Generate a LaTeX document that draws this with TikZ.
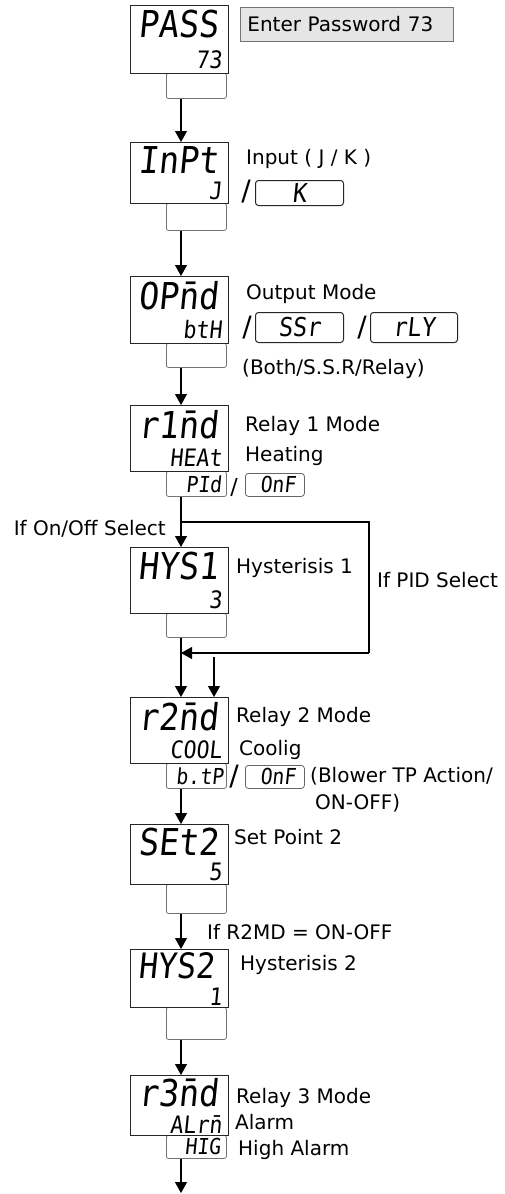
\documentclass[tikz,border=0pt]{standalone}
\usepackage{fontspec}
\setmainfont{DejaVu Sans}
\newfontfamily\segfont{DejaVu Sans Mono}[FakeSlant=0.1,FakeStretch=0.9]
\usetikzlibrary{arrows.meta}
\begin{document}
\begin{tikzpicture}[x=1pt,y=-1pt,
  mainbox/.style={draw=black!85,line width=1pt,anchor=north west,minimum width=98pt,inner sep=0pt,fill=white},
  subbox/.style={draw=black!55,line width=0.8pt,anchor=north west,minimum width=60pt,inner sep=0pt,rounded corners=2pt},
  optbox/.style={draw=black!85,line width=1pt,rounded corners=3pt,inner sep=0pt,anchor=north west},
  segtop/.style={font=\fontsize{37}{37}\segfont,anchor=north west,inner sep=0pt},
  segbot/.style={font=\fontsize{24}{24}\segfont,anchor=south east,inner sep=0pt},
  segsub/.style={font=\fontsize{22}{22}\segfont,anchor=east,inner sep=0pt},
  segopt/.style={font=\fontsize{26}{26}\segfont,inner sep=0pt},
  segsm/.style={font=\fontsize{22}{22}\segfont,inner sep=0pt},
  lbl/.style={font=\fontsize{20}{24}\selectfont,anchor=base west,inner sep=0pt},
  lble/.style={font=\fontsize{20}{24}\selectfont,anchor=base east,inner sep=0pt},
  sl/.style={font=\fontsize{28}{28}\selectfont,inner sep=0pt},
  slsm/.style={font=\fontsize{22}{22}\selectfont,inner sep=0pt},
  arr/.style={line width=1.1pt,-{Triangle[width=12pt,length=11pt]}},
  ln/.style={line width=1.1pt}]
\useasboundingbox (0,0) rectangle (504,1194);

% ---------- displays ----------
\node[subbox,minimum height=25pt] (pass-s) at (166,73) {};
\node[mainbox,minimum height=68pt] (pass) at (130,5) {};
\node[segtop] (pass-t) at ([xshift=8pt,yshift=-5pt]pass.north west) {PASS};
\node[segbot] (pass-b) at ([xshift=-7pt,yshift=5pt]pass.south east) {73};

\node[subbox,minimum height=27pt] (inpt-s) at (166,203) {};
\node[mainbox,minimum height=61pt] (inpt) at (130,142) {};
\node[segtop] (inpt-t) at ([xshift=8pt,yshift=-4pt]inpt.north west) {InPt};
\node[segbot] (inpt-b) at ([xshift=-7pt,yshift=4pt]inpt.south east) {J};

\node[subbox,minimum height=24pt] (opmd-s) at (166,343) {};
\node[mainbox,minimum height=67pt] (opmd) at (130,276) {};
\node[segtop] (opmd-t) at ([xshift=8pt,yshift=-5pt]opmd.north west) {OP\=nd};
\node[segbot] (opmd-b) at ([xshift=-7pt,yshift=5pt]opmd.south east) {btH};

\node[subbox,minimum height=25pt] (r1md-s) at (166,471) {};
\node[mainbox,minimum height=66pt] (r1md) at (130,405) {};
\node[segtop] (r1md-t) at ([xshift=8pt,yshift=-5pt]r1md.north west) {r1\=nd};
\node[segbot] (r1md-b) at ([xshift=-7pt,yshift=5pt]r1md.south east) {HEAt};
\node[segsub] (r1md-v) at ([xshift=-5pt]r1md-s.east) {PId};

\node[subbox,minimum height=24pt] (hys1-s) at (166,613) {};
\node[mainbox,minimum height=66pt] (hys1) at (130,547) {};
\node[segtop] (hys1-t) at ([xshift=8pt,yshift=-5pt]hys1.north west) {HYS1};
\node[segbot] (hys1-b) at ([xshift=-7pt,yshift=5pt]hys1.south east) {3};

\node[subbox,minimum height=25pt] (r2md-s) at (166,763) {};
\node[mainbox,minimum height=66pt] (r2md) at (130,697) {};
\node[segtop] (r2md-t) at ([xshift=8pt,yshift=-5pt]r2md.north west) {r2\=nd};
\node[segbot] (r2md-b) at ([xshift=-7pt,yshift=5pt]r2md.south east) {COOL};
\node[segsub] (r2md-v) at ([xshift=-3pt]r2md-s.east) {b.tP};

\node[subbox,minimum height=29pt] (set2-s) at (166,884) {};
\node[mainbox,minimum height=60pt] (set2) at (130,824) {};
\node[segtop] (set2-t) at ([xshift=8pt,yshift=-4pt]set2.north west) {SEt2};
\node[segbot] (set2-b) at ([xshift=-7pt,yshift=4pt]set2.south east) {5};

\node[subbox,minimum height=32pt] (hys2-s) at (166,1007) {};
\node[mainbox,minimum height=58pt] (hys2) at (130,949) {};
\node[segtop,font=\fontsize{35}{35}\segfont] (hys2-t) at ([xshift=8pt,yshift=-3pt]hys2.north west) {HYS2};
\node[segbot] (hys2-b) at ([xshift=-7pt,yshift=2pt]hys2.south east) {1};

\node[subbox,minimum height=23pt] (r3md-s) at (166,1135) {};
\node[mainbox,minimum height=60pt] (r3md) at (130,1075) {};
\node[segtop] (r3md-t) at ([xshift=8pt,yshift=-3pt]r3md.north west) {r3\=nd};
\node[segbot] (r3md-b) at ([xshift=-7pt,yshift=2pt]r3md.south east) {ALr\=n};
\node[segsub] (r3md-v) at ([xshift=-6pt]r3md-s.east) {HIG};

% ---------- option boxes ----------
\node[optbox,minimum width=88pt,minimum height=25pt] (kbox) at (255,180) {};
\node[segopt] at (kbox.center) {K};
\node[optbox,minimum width=88pt,minimum height=30pt] (ssr) at (255,312) {};
\node[segopt] at (ssr.center) {SSr};
\node[optbox,minimum width=87pt,minimum height=30pt] (rly) at (370,312) {};
\node[segopt] at (rly.center) {rLY};
\node[optbox,draw=black!60,line width=0.8pt,minimum width=59pt,minimum height=23pt] (onf1) at (245,473) {};
\node[segsm] at ([xshift=3pt]onf1.center) {OnF};
\node[optbox,draw=black!60,line width=0.8pt,minimum width=59pt,minimum height=23pt] (onf2) at (245,765) {};
\node[segsm] at ([xshift=3pt]onf2.center) {OnF};

% slashes
\node[sl] (s1) at (246,192) {/};
\node[sl] (s2) at (247,328) {/};
\node[sl] (s3) at (362,328) {/};
\node[slsm] (s4) at (234,487) {/};
\node[sl] (s5) at (234,777) {/};

% ---------- labels ----------
\node[draw=black!55,fill=black!10,line width=0.8pt,anchor=north west,minimum height=34pt,
      text width=199pt,inner xsep=7pt,inner ysep=0pt,align=left,
      font=\fontsize{20}{24}\selectfont] (pw) at (240,7) {Enter Password 73};
\node[lbl] (l1) at (246,164) {Input ( J / K )};
\node[lbl] (l2) at (246,299) {Output Mode};
\node[lbl] (l3) at (242,374) {(Both/S.S.R/Relay)};
\node[lbl] (l4) at (245,431) {Relay 1 Mode};
\node[lbl] (l5) at (245,461) {Heating};
\node[lble] (l6) at (166,535) {If On/Off Select};
\node[lbl] (l7) at (236,573) {Hysterisis 1};
\node[lbl] (l8) at (377,587) {If PID Select};
\node[lbl] (l9) at (236,722) {Relay 2 Mode};
\node[lbl] (l10) at (239,755) {Coolig};
\node[lbl] (l11) at (310,782) {(Blower TP Action/};
\node[lbl] (l12) at (315,809) {ON-OFF)};
\node[lbl] (l13) at (234,844) {Set Point 2};
\node[lbl] (l14) at (207,939) {If R2MD = ON-OFF};
\node[lbl] (l15) at (240,970) {Hysterisis 2};
\node[lbl] (l16) at (236,1103) {Relay 3 Mode};
\node[lbl] (l17) at (235,1129) {Alarm};
\node[lbl] (l18) at (238,1155) {High Alarm};

% ---------- connectors ----------
\draw[arr] ([xshift=15pt]pass-s.south west) -- ([xshift=51pt]inpt.north west);
\draw[arr] ([xshift=15pt]inpt-s.south west) -- ([xshift=51pt]opmd.north west);
\draw[arr] ([xshift=15pt]opmd-s.south west) -- ([xshift=51pt]r1md.north west);
\draw[arr] ([xshift=15pt]r1md-s.south west) -- ([xshift=51pt]hys1.north west);
\coordinate (b1) at (181,522);
\coordinate (b2) at (369,522);
\coordinate (b3) at (369,653);
\coordinate (b4) at (181,653);
\coordinate (b5) at (214,657);
\draw[ln] (b1) -- (b2) -- (b3);
\draw[arr] (b3) -- (b4);
\draw[arr] ([xshift=15pt]hys1-s.south west) -- ([xshift=51pt]r2md.north west);
\draw[arr] (b5) -- ([xshift=84pt]r2md.north west);
\draw[arr] ([xshift=15pt]r2md-s.south west) -- ([xshift=51pt]set2.north west);
\draw[arr] ([xshift=15pt]set2-s.south west) -- ([xshift=51pt]hys2.north west);
\draw[arr] ([xshift=15pt]hys2-s.south west) -- ([xshift=51pt]r3md.north west);
\coordinate (endp) at (181,1193);
\draw[arr] ([xshift=15pt]r3md-s.south west) -- (endp);
\end{tikzpicture}
\end{document}
